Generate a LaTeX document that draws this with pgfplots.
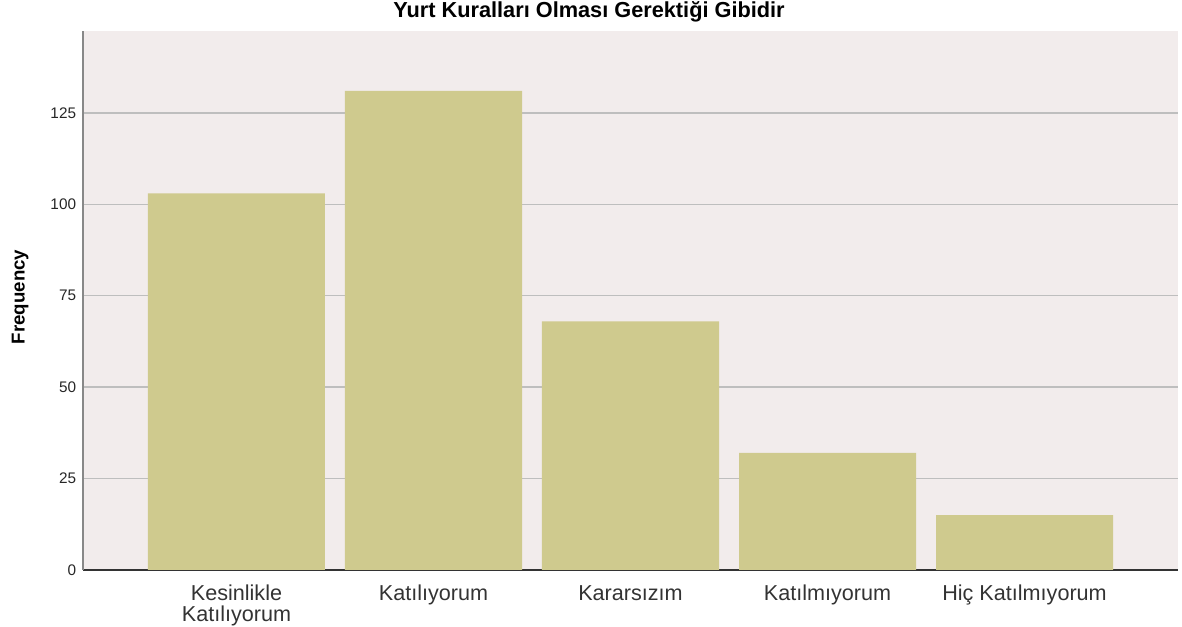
\documentclass[border=0pt]{standalone}
\usepackage{fontspec}
\setmainfont{Liberation Sans}
\usepackage{pgfplots}
\pgfplotsset{compat=1.18}

\definecolor{barcol}{HTML}{CFCA8E}
\definecolor{bgcol}{HTML}{F2ECEC}
\definecolor{gridcol}{HTML}{BEBEBE}
\definecolor{yaxcol}{HTML}{888888}
\definecolor{xaxcol}{HTML}{333333}

% same top for every category label
\newcommand{\lb}{\vphantom{Kl}}

\begin{document}
\begin{tikzpicture}
  \begin{axis}[
      at={(62.25pt,42.75pt)}, anchor=south west,
      scale only axis,
      width=821.25pt,
      height=404.25pt,
      xmin=-0.779, xmax=4.779,
      ymin=0, ymax=147.4,
      axis x line*=bottom,
      axis y line*=left,
      x axis line style={xaxcol, line width=1.1pt, -},
      y axis line style={yaxcol, line width=1.5pt, -},
      axis background/.style={fill=bgcol},
      xtick=data,
      xticklabels={{\lb Kesinlikle\\Katılıyorum}, \lb Katılıyorum, \lb Kararsızım, \lb Katılmıyorum, \lb Hiç Katılmıyorum},
      ytick={0,25,50,75,100,125},
      major tick length=0pt,
      ymajorgrids,
      grid style={gridcol, line width=1.1pt},
      /pgf/number format/assume math mode=true,
      yticklabel style={font=\fontsize{11.5}{13}\selectfont, color=black!85, anchor=east, inner sep=0pt, xshift=-5pt},
      xticklabel style={font=\fontsize{16.2}{15.75}\selectfont, color=black!80, align=center, anchor=north, inner sep=0pt, yshift=-11.25pt},
      every axis title shift=0pt,
      title={Yurt Kuralları Olması Gerektiği Gibidir},
      title style={font=\fontsize{16.3}{18}\selectfont\bfseries, at={(axis description cs:0.4621,1.0357)}, anchor=center, inner sep=0pt},
      ylabel={Frequency},
      ylabel style={font=\fontsize{14}{16}\selectfont\bfseries, at={(axis description cs:-0.0575,0.5065)}, anchor=center, rotate=0, inner sep=0pt},
    ]
    \addplot[ybar, bar width=0.8985, fill=barcol, draw=none]
    coordinates {
      (0,103)
      (1,131)
      (2,68)
      (3,32)
      (4,15)
    };
  \end{axis}
  \pgfresetboundingbox
  \path[use as bounding box] (0,0) rectangle (886.5pt,470.25pt);
\end{tikzpicture}
\end{document}
